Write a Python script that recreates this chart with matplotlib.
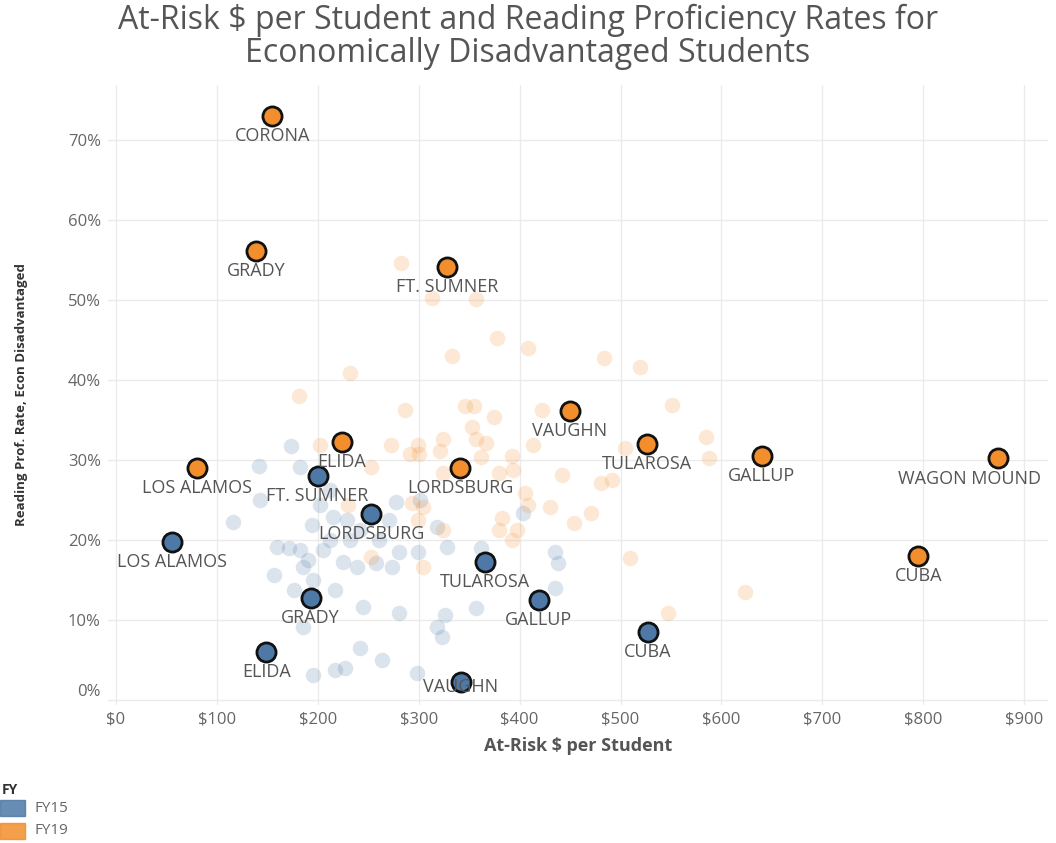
"""Scatter of at-risk funding per student vs reading proficiency (FY15 vs FY19)."""

import matplotlib

matplotlib.use("Agg")
import matplotlib.pyplot as plt
from matplotlib.patches import Rectangle
from matplotlib.ticker import FuncFormatter

plt.rcParams["font.family"] = ["Open Sans", "DejaVu Sans"]

BLUE = "#4E79A7"
ORANGE = "#F28E2B"
TEXT = "#555555"

# highlighted districts, FY19
fy19_names = ["CORONA", "GRADY", "FT. SUMNER", "VAUGHN", "ELIDA", "TULAROSA",
              "GALLUP", "WAGON MOUND", "LOS ALAMOS", "LORDSBURG", "CUBA"]
fy19_dollars = [155, 139, 328, 450, 224, 526, 640, 874, 80, 341, 795]
fy19_rates = [73.0, 56.1, 54.1, 36.1, 32.3, 32.0, 30.5, 30.3, 29.0, 29.0, 18.0]

# highlighted districts, FY15
fy15_names = ["FT. SUMNER", "LORDSBURG", "LOS ALAMOS", "TULAROSA", "GRADY",
              "GALLUP", "CUBA", "ELIDA", "VAUGHN"]
fy15_dollars = [200, 253, 56, 366, 193, 419, 527, 149, 342]
fy15_rates = [28.0, 23.3, 19.8, 17.3, 12.8, 12.5, 8.5, 6.0, 2.3]

# all other districts (faded)
other19_dollars = [283, 313, 357, 378, 408, 333, 484, 519, 232, 181, 286, 346,
                   355, 375, 422, 551, 353, 585, 588, 504, 324, 357, 367, 273,
                   299, 291, 300, 321, 362, 392, 413, 202, 253, 324, 380, 393,
                   442, 481, 492, 405, 408, 430, 471, 454, 383, 380, 397, 392,
                   509, 547, 623, 293, 304, 299, 324, 304, 230, 253]
other19_rates = [54.6, 50.3, 50.1, 45.3, 44.0, 43.0, 42.8, 41.6, 40.9, 38.0,
                 36.3, 36.8, 36.8, 35.4, 36.3, 36.9, 34.1, 32.9, 30.3, 31.5,
                 32.6, 32.6, 32.1, 31.9, 31.9, 30.8, 30.8, 31.1, 30.4, 30.5,
                 31.9, 31.9, 29.1, 28.4, 28.4, 28.8, 28.1, 27.1, 27.5, 25.9,
                 24.4, 24.1, 23.4, 22.1, 22.8, 21.3, 21.3, 20.0, 17.8, 10.9,
                 13.5, 24.6, 24.1, 22.5, 21.3, 16.6, 24.4, 17.9]

other15_dollars = [174, 142, 182, 143, 116, 160, 172, 182, 190, 185, 157, 195,
                   177, 217, 205, 194, 215, 229, 225, 239, 278, 301, 403, 318,
                   328, 362, 281, 299, 258, 274, 435, 438, 435, 245, 281, 326,
                   357, 318, 323, 242, 264, 298, 195, 217, 227, 185, 212, 242,
                   261, 232, 212, 202, 271]
other15_rates = [31.8, 29.3, 29.1, 25.0, 22.3, 19.1, 19.0, 18.8, 17.5, 16.6,
                 15.6, 15.0, 13.8, 13.8, 18.8, 21.9, 22.9, 22.5, 17.3, 16.6,
                 24.8, 25.0, 23.4, 21.6, 19.1, 19.0, 18.5, 18.5, 17.1, 16.6,
                 18.5, 17.1, 14.0, 11.6, 10.9, 10.6, 11.5, 9.1, 7.9, 6.5,
                 5.0, 3.4, 3.1, 3.8, 4.0, 9.1, 26.3, 21.3, 20.0, 20.0, 20.0,
                 24.4, 22.5]

title_lines = ["At-Risk $ per Student and Reading Proficiency Rates for",
               "Economically Disadvantaged Students"]

# label offsets in pixels (default is straight below the mark)
label_offsets = {("FY15", "VAUGHN"): (0, -5), ("FY19", "WAGON MOUND"): (-29, -21)}

fig = plt.figure(figsize=(10.56, 8.43), dpi=100)
ax = fig.add_axes([0.102, 0.164, 0.890, 0.735])

ax.scatter(other15_dollars, other15_rates, s=125, color=BLUE, alpha=0.2,
           linewidths=0, zorder=2)
ax.scatter(other19_dollars, other19_rates, s=125, color=ORANGE, alpha=0.2,
           linewidths=0, zorder=2)
ax.scatter(fy15_dollars, fy15_rates, s=190, color=BLUE, edgecolors="#111111",
           linewidths=2, zorder=4)
ax.scatter(fy19_dollars, fy19_rates, s=190, color=ORANGE, edgecolors="#111111",
           linewidths=2, zorder=4)

for fy, names, xs, ys in [("FY15", fy15_names, fy15_dollars, fy15_rates),
                          ("FY19", fy19_names, fy19_dollars, fy19_rates)]:
    for name, x, y in zip(names, xs, ys):
        dx, dy = label_offsets.get((fy, name), (0, -20))
        ax.annotate(name, (x, y), xytext=(dx, dy), textcoords="offset pixels",
                    ha="center", va="center", fontsize=13, color=TEXT,
                    zorder=5)

ax.set_xlim(-8, 923)
ax.set_ylim(-0.6, 76.9)
ax.set_xticks(range(0, 901, 100))
ax.set_yticks(range(0, 71, 10))
ax.xaxis.set_major_formatter(FuncFormatter(lambda v, _: f"${v:.0f}"))
ax.yaxis.set_major_formatter(FuncFormatter(lambda v, _: f"{v:.0f}%"))
ax.tick_params(length=0, labelsize=12, labelcolor="#666666", pad=5)
ax.grid(True, color="#EBEBEB", linewidth=1)
ax.set_axisbelow(True)
for s in ax.spines.values():
    s.set_visible(False)
fig.canvas.draw()
ax.get_yticklabels()[0].set_va("bottom")

ax.set_xlabel("At-Risk $ per Student", fontsize=13, fontweight="bold",
              color=TEXT, labelpad=7)
fig.text(22 / 1056, 1 - 395 / 843, "Reading Prof. Rate, Econ Disadvantaged",
         rotation=90, ha="center", va="center", fontsize=9.5,
         fontweight="bold", color="#333333")

for i, line in enumerate(title_lines):
    fig.text(0.5, 1 - (20 + 34 * i) / 843, line, ha="center", va="center",
             fontsize=23, color=TEXT)

# legend
fig.text(2 / 1056, 1 - 790 / 843, "FY", fontsize=10, fontweight="bold",
         color="#333333", va="center")
for i, (lab, col) in enumerate([("FY15", BLUE), ("FY19", ORANGE)]):
    yc = 808 + i * 23
    fig.patches.append(Rectangle((0, 1 - (yc + 8) / 843), 25 / 1056, 16 / 843,
                                 transform=fig.transFigure, color=col,
                                 alpha=0.85))
    fig.text(35 / 1056, 1 - yc / 843, lab, fontsize=11, color="#666666",
             va="center")

fig.savefig("out.png", dpi=100)
